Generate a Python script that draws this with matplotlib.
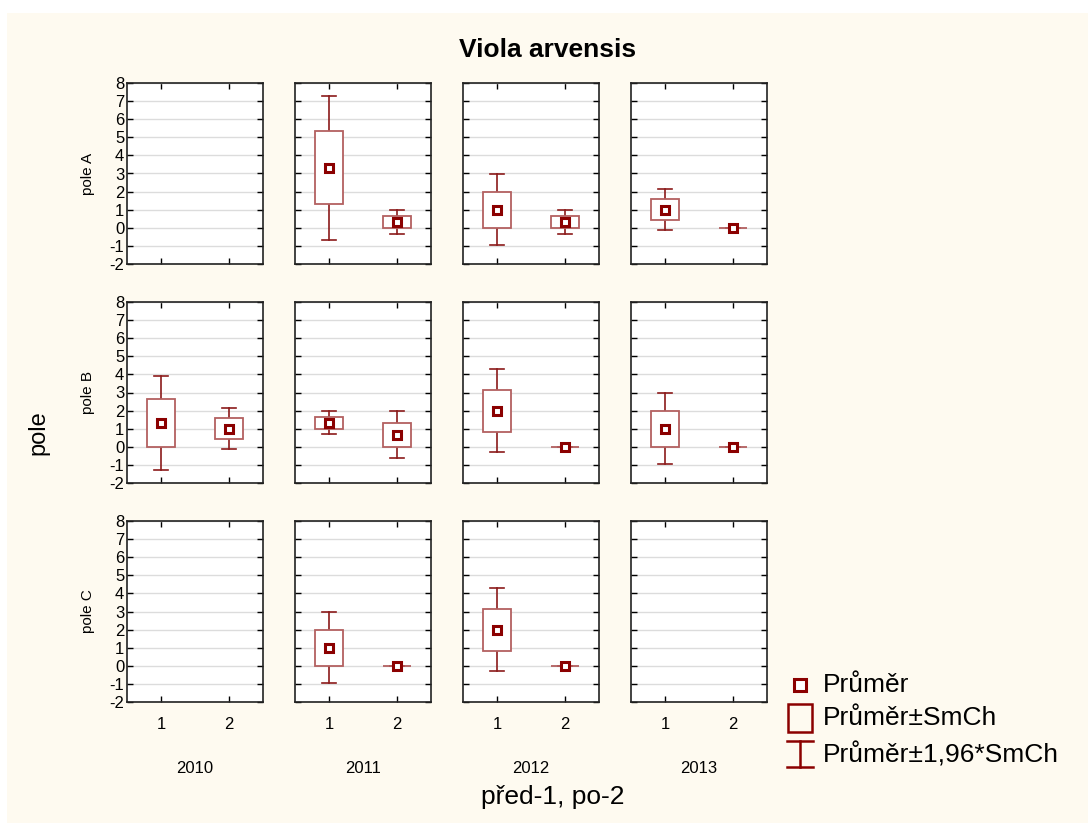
import matplotlib
matplotlib.use("Agg")
import matplotlib.pyplot as plt
from matplotlib.patches import Rectangle
import numpy as np

plt.rcParams["font.family"] = ["Liberation Sans", "DejaVu Sans"]
plt.rcParams["axes.unicode_minus"] = False

# --------------------------------------------------------------------
# Data (mean and standard error per row / year / group)
# --------------------------------------------------------------------
years = ["2010", "2011", "2012", "2013"]
rows = ["pole A", "pole B", "pole C"]
groups = [1, 2]

# None = no data in that panel
mean_A = [None, [3.32, 0.33], [1.0, 0.33], [1.0, 0.0]]
se_A = [None, [2.03, 0.33], [1.0, 0.33], [0.58, 0.0]]

mean_B = [[1.33, 1.0], [1.33, 0.67], [2.0, 0.0], [1.0, 0.0]]
se_B = [[1.33, 0.58], [0.33, 0.67], [1.16, 0.0], [1.0, 0.0]]

mean_C = [None, [1.0, 0.0], [2.0, 0.0], None]
se_C = [None, [1.0, 0.0], [1.16, 0.0], None]

means = [mean_A, mean_B, mean_C]
ses = [se_A, se_B, se_C]

yticks = list(range(-2, 9))
legend_labels = ["Průměr", "Průměr±SmCh", "Průměr±1,96*SmCh"]

# --------------------------------------------------------------------
# Style
# --------------------------------------------------------------------
W, H = 1088, 823
BG = "#fefaf0"
DARK = "#8b0000"
BOX = "#b36060"
WHISK = "#8b1a1a"

fig = plt.figure(figsize=(W / 100, H / 100), dpi=100)
fig.patch.set_facecolor("white")
fig.patches.append(Rectangle((7 / W, 0), 1 - 7 / W, 1 - 13 / H,
                             transform=fig.transFigure, facecolor=BG,
                             edgecolor="none", zorder=-10))


def px_axes(x0, y0, w, h):
    # pixel box (top-left origin) -> figure axes
    return fig.add_axes([x0 / W, 1 - (y0 + h) / H, w / W, h / H])


col_x = [127, 295, 463, 631]
row_y = [83, 302, 521]
pw, ph = 136, 181

for r in range(3):
    for c in range(4):
        ax = px_axes(col_x[c], row_y[r], pw, ph)
        ax.set_facecolor("white")
        ax.set_xlim(0.5, 2.5)
        ax.set_ylim(-2, 8)
        ax.set_yticks(yticks)
        ax.set_xticks(groups)
        ax.grid(axis="y", color="#dcdcdc", lw=1)
        ax.set_axisbelow(True)
        ax.tick_params(direction="in", length=4, width=1, top=True,
                       right=True, labelsize=12, pad=2, colors="black")
        for s in ax.spines.values():
            s.set_linewidth(1.2)
            s.set_color("#222222")
        if c != 0:
            ax.tick_params(labelleft=False)
        else:
            ax.set_ylabel(rows[r], fontsize=11, labelpad=10)
        if r != 2:
            ax.tick_params(labelbottom=False)
        else:
            ax.tick_params(axis="x", pad=11)
            ax.set_xlabel(years[c], fontsize=12, labelpad=21)

        m = means[r][c]
        s = ses[r][c]
        if m is None:
            continue
        for g, mv, sv in zip(groups, m, s):
            lo, hi = mv - 1.96 * sv, mv + 1.96 * sv
            ax.plot([g, g], [lo, mv - sv], color=WHISK, lw=1.2, zorder=3)
            ax.plot([g, g], [mv + sv, hi], color=WHISK, lw=1.2, zorder=3)
            ax.plot([g - 0.1, g + 0.1], [lo, lo], color=WHISK, lw=1.2, zorder=3)
            ax.plot([g - 0.1, g + 0.1], [hi, hi], color=WHISK, lw=1.2, zorder=3)
            ax.add_patch(Rectangle((g - 0.2, mv - sv), 0.4, 2 * sv,
                                   facecolor="white", edgecolor=BOX,
                                   lw=1.3, zorder=4))
            ax.plot([g], [mv], marker="s", ms=5.5, mfc="white", mec=DARK,
                    mew=2.2, zorder=5)

# --------------------------------------------------------------------
# Titles and labels
# --------------------------------------------------------------------
fig.text(548 / W, 1 - 50 / H, "Viola arvensis", ha="center", va="center",
         fontsize=19, fontweight="bold")
fig.text(38 / W, 1 - 433 / H, "pole", ha="center", va="center",
         fontsize=17, rotation=90)
fig.text(553 / W, 1 - 797 / H, "před-1, po-2", ha="center", va="center",
         fontsize=19)

# --------------------------------------------------------------------
# Legend (drawn by hand in pixel coordinates)
# --------------------------------------------------------------------
lg = fig.add_axes([0, 0, 1, 1])
lg.set_xlim(0, W)
lg.set_ylim(H, 0)
lg.axis("off")
lg.plot([800], [685], marker="s", ms=8, mfc="white", mec=DARK, mew=2.2)
lg.add_patch(Rectangle((788, 704), 24, 28, facecolor="none", edgecolor=DARK, lw=1.8))
lg.plot([800, 800], [741, 767], color=DARK, lw=1.8)
lg.plot([787, 813], [741, 741], color=DARK, lw=1.8)
lg.plot([787, 813], [767, 767], color=DARK, lw=1.8)
for yy, lab in zip([685, 718, 755], legend_labels):
    lg.text(823, yy, lab, ha="left", va="center", fontsize=19)

fig.savefig("out.png", dpi=100, facecolor=fig.get_facecolor())
